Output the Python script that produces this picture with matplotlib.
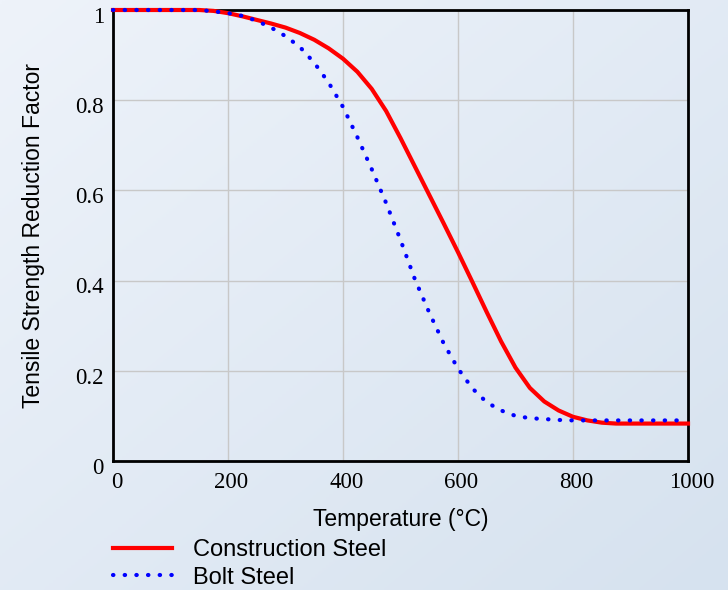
import numpy as np
import matplotlib
matplotlib.use("Agg")
import matplotlib.pyplot as plt
import matplotlib.transforms as mtrans

# values
temp_construction = [0, 150, 175, 200, 225, 250, 275, 300, 325, 350, 375, 400, 425, 450, 475,
                     500, 525, 550, 575, 600, 625, 650, 675, 700, 725, 750, 775, 800, 825,
                     850, 875, 1000]
factor_construction = [1.0, 1.0, 0.998, 0.993, 0.986, 0.978, 0.97, 0.961, 0.949, 0.934, 0.915,
                       0.892, 0.863, 0.825, 0.776, 0.716, 0.653, 0.59, 0.527, 0.463, 0.397,
                       0.33, 0.265, 0.207, 0.162, 0.132, 0.112, 0.098, 0.09, 0.085, 0.083,
                       0.083]

temp_bolt = [0, 150, 175, 200, 225, 250, 275, 300, 325, 350, 375, 400, 425, 450, 475, 500,
             525, 550, 575, 600, 625, 650, 675, 700, 725, 750, 775, 800, 1000]
factor_bolt = [1.0, 1.0, 0.997, 0.993, 0.987, 0.976, 0.961, 0.942, 0.918, 0.883, 0.839, 0.785,
               0.718, 0.647, 0.572, 0.49, 0.403, 0.329, 0.261, 0.205, 0.161, 0.13, 0.112,
               0.10, 0.095, 0.093, 0.091, 0.09, 0.09]

x_ticks = [0, 200, 400, 600, 800, 1000]
y_ticks = [0, 0.2, 0.4, 0.6, 0.8, 1]
y_tick_labels = ["0", "0.2", "0.4", "0.6", "0.8", "1"]

fig = plt.figure(figsize=(7.28, 5.9), dpi=100)

# gradient background
bg = fig.add_axes([0, 0, 1, 1], zorder=-10)
gx, gy = np.meshgrid(np.linspace(0, 1, 200), np.linspace(0, 1, 200))
g = 0.5 * gx + 0.5 * gy
bg.imshow(g, cmap=matplotlib.colors.LinearSegmentedColormap.from_list(
    "bgc", ["#eef3fa", "#d6e2ef"]), aspect="auto", extent=[0, 1, 0, 1], origin="upper")
bg.axis("off")

ax = fig.add_axes([113 / 728, 1 - 461 / 590, 575 / 728, 451 / 590])
ax.set_facecolor("none")

ax.plot(temp_construction, factor_construction, color="#ff0000", lw=3,
        label="Construction Steel", clip_on=False, zorder=3)
ax.plot(temp_bolt, factor_bolt, color="#0000ff", lw=3, linestyle=(0, (0.1, 2.7)),
        dash_capstyle="round", label="Bolt Steel", clip_on=False, zorder=4)

ax.set_xlim(0, 1000)
ax.set_ylim(0, 1)
ax.set_xticks(x_ticks)
ax.set_yticks(y_ticks)
ax.set_yticklabels(y_tick_labels)
ax.tick_params(length=0, labelsize=16.5)
ax.tick_params(axis="x", pad=8)
ax.tick_params(axis="y", pad=6.5)
dx = mtrans.ScaledTranslation(2.5 / 72, 0, fig.dpi_scale_trans)
dy = mtrans.ScaledTranslation(0, -3.5 / 72, fig.dpi_scale_trans)
for lab in ax.get_xticklabels():
    lab.set_fontfamily("Liberation Serif")
    lab.set_transform(lab.get_transform() + dx)
for lab in ax.get_yticklabels():
    lab.set_fontfamily("Liberation Serif")
    lab.set_transform(lab.get_transform() + dy)
ax.grid(True, color="#c8c8c8", lw=1)
ax.set_axisbelow(True)
for s in ax.spines.values():
    s.set_linewidth(2)
    s.set_color("black")

ax.set_xlabel("Temperature (°C)", fontfamily="Liberation Sans", fontsize=16.5, labelpad=11)
ax.set_ylabel("Tensile Strength Reduction Factor", fontfamily="Liberation Sans",
              fontsize=16.5, labelpad=22)

fig.legend(loc="upper left", bbox_to_anchor=(101 / 728, 1 - 527 / 590), frameon=False,
           prop={"family": "Liberation Sans", "size": 17}, handlelength=2.5,
           handletextpad=0.9, labelspacing=0.25, borderpad=0)

fig.savefig("out.png", dpi=100)
